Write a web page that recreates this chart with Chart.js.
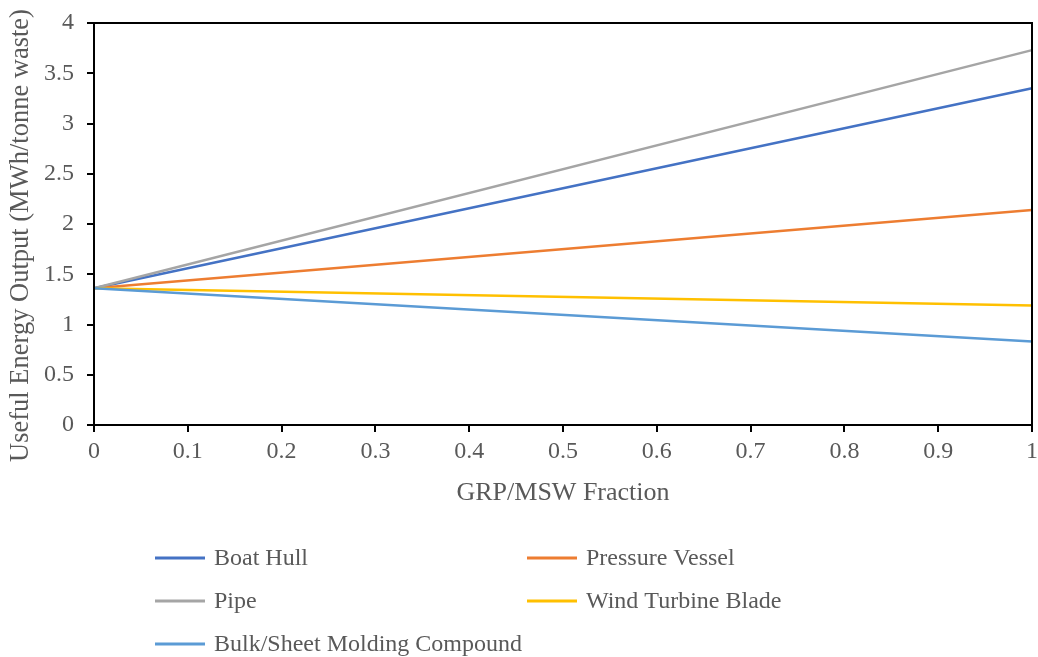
<!DOCTYPE html>
<html>
<head>
<meta charset="utf-8">
<script src="https://cdn.jsdelivr.net/npm/chart.js@4"></script>
<style>
  html, body { margin: 0; padding: 0; background: #fff; }
  #wrap { width: 1038px; height: 657px; position: relative; }
</style>
</head>
<body>
<div id="wrap"><canvas id="c" width="1038" height="657"></canvas></div>
<script>
// ---- data ----
const xValues = [0, 1];
const boatHull = [1.36, 3.35];
const pressureVessel = [1.36, 2.14];
const pipe = [1.36, 3.73];
const windTurbineBlade = [1.36, 1.19];
const bulkSheetMolding = [1.36, 0.83];
const seriesNames = ["Boat Hull", "Pressure Vessel", "Pipe", "Wind Turbine Blade", "Bulk/Sheet Molding Compound"];
const seriesColors = ["#4472C4", "#ED7D31", "#A5A5A5", "#FFC000", "#5B9BD5"];
const xTitle = "GRP/MSW Fraction";
const yTitle = "Useful Energy Output (MWh/tonne waste)";

const seriesValues = [boatHull, pressureVessel, pipe, windTurbineBlade, bulkSheetMolding];
const FONT = "'Liberation Serif', 'Times New Roman', serif";
const TEXT = "#595959";

const datasets = seriesValues.map((vals, i) => ({
  label: seriesNames[i],
  data: vals.map((v, j) => ({ x: xValues[j], y: v })),
  borderColor: seriesColors[i],
  backgroundColor: seriesColors[i],
  borderWidth: 2.5,
  pointRadius: 0,
  tension: 0,
  fill: false,
  order: seriesValues.length - i,
  clip: false
}));

const boxPlugin = {
  id: 'box',
  afterDraw(chart) {
    const { ctx, chartArea: a } = chart;
    ctx.save();
    ctx.strokeStyle = '#000';
    ctx.lineWidth = 2;
    ctx.strokeRect(a.left, a.top, a.right - a.left, a.bottom - a.top);
    // y axis title
    ctx.fillStyle = TEXT;
    ctx.font = "26.5px " + FONT;
    ctx.textAlign = 'center';
    ctx.textBaseline = 'alphabetic';
    ctx.translate(28, 235.5);
    ctx.rotate(-Math.PI / 2);
    ctx.fillText(yTitle, 0, 0);
    ctx.restore();
  }
};

const legendPlugin = {
  id: 'customLegend',
  afterDraw(chart) {
    const ctx = chart.ctx;
    const colX = [155, 527];
    const rowY = [558, 601, 644];
    ctx.save();
    ctx.font = "24px " + FONT;
    ctx.textBaseline = 'middle';
    ctx.fillStyle = TEXT;
    chart.data.datasets.forEach((ds, i) => {
      const x = colX[i % 2];
      const y = rowY[Math.floor(i / 2)];
      ctx.strokeStyle = ds.borderColor;
      ctx.lineWidth = 3;
      ctx.beginPath();
      ctx.moveTo(x, y);
      ctx.lineTo(x + 50, y);
      ctx.stroke();
      ctx.fillText(ds.label, x + 59, y + 1);
    });
    ctx.restore();
  }
};

const fmt = v => String(Math.round(v * 10) / 10);

new Chart(document.getElementById('c'), {
  type: 'line',
  data: { datasets },
  plugins: [boxPlugin, legendPlugin],
  options: {
    responsive: false,
    animation: false,
    layout: { padding: { left: 10, top: 23, right: 6, bottom: 150 } },
    plugins: { legend: { display: false }, tooltip: { enabled: false } },
    scales: {
      x: {
        type: 'linear',
        min: 0, max: 1,
        afterFit(s) { s.height = 82; s.paddingLeft = 0; s.paddingRight = 0; },
        ticks: { stepSize: 0.1, color: TEXT, font: { family: FONT, size: 24 }, padding: 5, maxRotation: 0, callback: fmt },
        grid: { drawOnChartArea: false, drawTicks: true, tickLength: 7, color: '#000', lineWidth: 2 },
        border: { display: true, color: '#000', width: 2 },
        title: { display: true, text: xTitle, color: TEXT, font: { family: FONT, size: 26 }, padding: { top: 0, bottom: -2 } }
      },
      y: {
        min: 0, max: 4,
        afterFit(s) { s.width = 84; s.paddingTop = 0; s.paddingBottom = 0; },
        ticks: { stepSize: 0.5, color: TEXT, font: { family: FONT, size: 24 }, padding: 13, callback: fmt },
        grid: { drawOnChartArea: false, drawTicks: true, tickLength: 7, color: '#000', lineWidth: 2 },
        border: { display: true, color: '#000', width: 2 },
        title: { display: false, text: yTitle }
      }
    }
  }
});
</script>
</body>
</html>
